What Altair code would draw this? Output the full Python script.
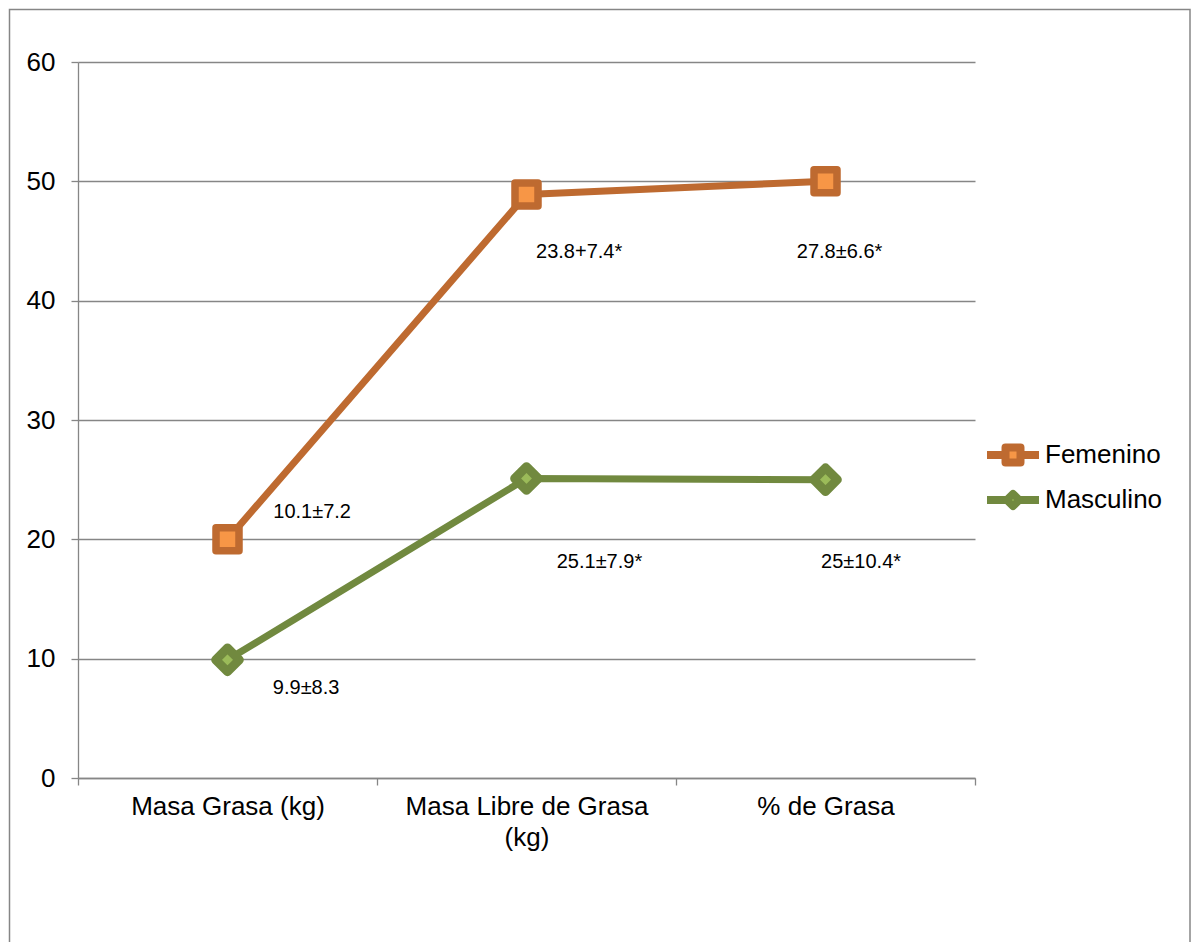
import altair as alt
import pandas as pd

# ---- data -------------------------------------------------------------
categorias = ["Masa Grasa (kg)", "Masa Libre de Grasa (kg)", "% de Grasa"]
series = ["Femenino", "Masculino"]
# stacked line chart: Masculino at the bottom, Femenino stacked on top
masculino = [9.9, 25.1, 25.0]
femenino = [10.1, 23.8, 25.0]

etiquetas_fem = ["10.1±7.2", "23.8+7.4*", "27.8±6.6*"]
etiquetas_mas = ["9.9±8.3", "25.1±7.9*", "25±10.4*"]
# label anchors: position along the category axis (category units) and value
etiq_pos_fem = [0.783, 1.676, 2.547]
etiq_val_fem = [22.25, 44.04, 44.04]
etiq_pos_mas = [0.763, 1.744, 2.619]
etiq_val_mas = [7.54, 18.06, 18.06]

ticks_y = [0, 10, 20, 30, 40, 50, 60]

# ---- styling ----------------------------------------------------------
FONT = "Liberation Sans"
GRAY = "#868686"
LINE = {"Femenino": "#BE6A30", "Masculino": "#71893F"}
FILL = {"Femenino": "#F79646", "Masculino": "#9BBB59"}
W, H = 897, 716
PAD_L, PAD_T = 78, 62

rows = []
for i, c in enumerate(categorias):
    rows.append({"categoria": c, "serie": "Masculino", "orden": 0, "valor": masculino[i]})
    rows.append({"categoria": c, "serie": "Femenino", "orden": 1, "valor": femenino[i]})
df = pd.DataFrame(rows)

lbl = pd.DataFrame(
    {
        "texto": etiquetas_fem + etiquetas_mas,
        "pos": etiq_pos_fem + etiq_pos_mas,
        "val": etiq_val_fem + etiq_val_mas,
    }
)

color_line = alt.Scale(domain=series, range=[LINE[s] for s in series])

# multi-line category labels
saltos = {"Masa Libre de Grasa (kg)": ["Masa Libre de Grasa", "(kg)"]}
expr = "datum.label"
for k, v in saltos.items():
    expr = f"datum.label == '{k}' ? ['{v[0]}', '{v[1]}'] : " + expr

x_enc = alt.X(
    "categoria:N",
    sort=categorias,
    scale=alt.Scale(type="band", domain=categorias, paddingInner=0, paddingOuter=0),
    axis=alt.Axis(
        title=None,
        tickBand="extent",
        grid=False,
        labelExpr=expr,
        labelAngle=0,
        labelFont=FONT,
        labelFontSize=26,
        labelLineHeight=31,
        labelColor="black",
        labelPadding=8,
        labelLimit=500,
        tickSize=7,
        tickColor=GRAY,
        tickWidth=1.3,
        domainColor=GRAY,
        domainWidth=1.3,
    ),
)
y_enc = alt.Y(
    "acum:Q",
    scale=alt.Scale(domain=[0, 60], nice=False),
    axis=alt.Axis(
        title=None,
        values=ticks_y,
        grid=True,
        gridColor=GRAY,
        gridWidth=1.3,
        labelFont=FONT,
        labelFontSize=26,
        labelColor="black",
        labelPadding=16,
        tickSize=7,
        tickColor=GRAY,
        tickWidth=1.3,
        domainColor=GRAY,
        domainWidth=1.3,
    ),
)

base = alt.Chart(df).transform_window(
    acum="sum(valor)",
    groupby=["categoria"],
    sort=[alt.SortField("orden")],
    frame=[None, 0],
)

lineas = base.mark_line(strokeWidth=7, strokeJoin="round").encode(
    x=x_enc,
    y=y_enc,
    color=alt.Color("serie:N", scale=color_line, legend=None),
    detail="serie:N",
)

marcadores = []
for s, shape, size, sw in [
    ("Masculino", "diamond", 560, 9),
    ("Femenino", "square", 529, 7.5),
]:
    marcadores.append(
        base.transform_filter(alt.datum.serie == s)
        .mark_point(
            shape=shape,
            size=size,
            filled=True,
            fill=FILL[s],
            stroke=LINE[s],
            strokeWidth=sw,
            strokeJoin="round",
            opacity=1,
        )
        .encode(x=x_enc, y=y_enc)
    )

principal = alt.layer(lineas, *marcadores)

etiquetas = alt.Chart(lbl).mark_text(
    font=FONT, fontSize=20, color="black", align="center", baseline="middle"
).encode(
    x=alt.X("pos:Q", scale=alt.Scale(domain=[0, 3], nice=False), axis=None),
    y=alt.Y("val:Q", scale=alt.Scale(domain=[0, 60], nice=False), axis=None),
    text="texto:N",
)

# legend drawn at the right of the plot area
leg_df = pd.DataFrame({"serie": series})
leg_y = alt.Y(
    "serie:N",
    scale=alt.Scale(type="point", domain=series, range=[455 - PAD_T, 500 - PAD_T], padding=0),
    axis=None,
)
leg_linea = alt.Chart(leg_df).mark_rule(strokeWidth=8).encode(
    x=alt.value(987 - PAD_L),
    x2=alt.value(1039 - PAD_L),
    y=leg_y,
    color=alt.Color("serie:N", scale=color_line, legend=None),
)
leg_marcas = []
for s, shape, size, sw in [
    ("Femenino", "square", 225, 8),
    ("Masculino", "diamond", 160, 7.5),
]:
    leg_marcas.append(
        alt.Chart(leg_df)
        .transform_filter(alt.datum.serie == s)
        .mark_point(
            shape=shape,
            size=size,
            filled=True,
            fill=FILL[s],
            stroke=LINE[s],
            strokeWidth=sw,
            strokeJoin="round",
            opacity=1,
        )
        .encode(x=alt.value(1013 - PAD_L), y=leg_y)
    )
leg_texto = alt.Chart(leg_df).mark_text(
    font=FONT, fontSize=26, color="black", align="left", baseline="middle"
).encode(x=alt.value(1045 - PAD_L), y=leg_y, text="serie:N")

leyenda = alt.layer(leg_linea, *leg_marcas, leg_texto)

# outer frame of the chart
marco = alt.Chart(pd.DataFrame({"k": [0]})).mark_rect(
    fill=None, stroke=GRAY, strokeWidth=1.5
).encode(
    x=alt.value(9.5 - PAD_L),
    x2=alt.value(1190 - PAD_L),
    y=alt.value(9.5 - PAD_T),
    y2=alt.value(990 - PAD_T),
)

chart = (
    alt.layer(marco, principal, etiquetas, leyenda)
    .resolve_scale(x="independent", y="independent")
    .properties(
        width=W,
        height=H,
        autosize=alt.AutoSizeParams(type="none"),
        padding={"left": PAD_L, "top": PAD_T, "right": 1194 - PAD_L - W, "bottom": 942 - PAD_T - H},
        background="white",
    )
    .configure_view(stroke=None)
)

chart.save("out.html", embed_options={"renderer": "svg", "actions": False})
